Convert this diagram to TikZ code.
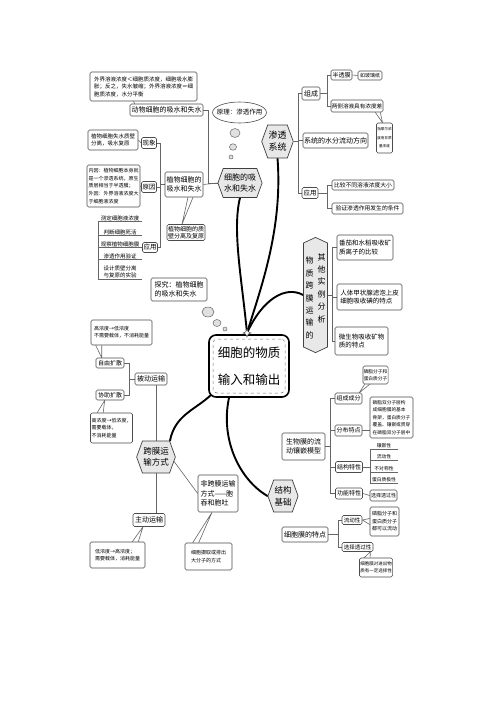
\documentclass[tikz,border=0pt]{standalone}
\usepackage{fontspec}
\setmainfont{Noto Sans CJK SC}
\usetikzlibrary{shapes.symbols,shapes.geometric,calc}
\pgfdeclarelayer{bg}
\pgfsetlayers{bg,main}
\newcommand\fsz[2]{\fontsize{#1}{#2}\selectfont}
\begin{document}
\begin{tikzpicture}[x=1pt,y=-1pt,
 bx/.style={draw=black!70,line width=0.6pt,rounded corners=1.5pt,fill=white,inner sep=0.8pt,align=center},
 hx/.style={shape=signal,signal to=west and east,signal pointer angle=140,draw=black!75,fill=black!9,line width=0.7pt,inner sep=0.8pt,align=center},
 bub/.style={ellipse,draw=black!60,fill=black!12,inner sep=0pt,line width=0.5pt},
 ln/.style={draw=black!60,line width=0.6pt},
 big/.style={draw=black,line width=1.9pt,line cap=round},
 li/.style={inner sep=0.8pt,align=center}
]
\begin{pgfonlayer}{bg}
\fill[white] (0,0) rectangle (500,707);
\end{pgfonlayer}
\useasboundingbox (0,0) rectangle (500,707);

% ---------- top left ----------
\node[bx,minimum width=107pt,minimum height=29pt,align=left,font=\fsz{5.5}{7.5}] (n1) at (143.5,86.5) {外界溶液浓度＜细胞质浓度，细胞吸水膨\\胀；反之，失水皱缩；外界溶液浓度＝细\\胞质浓度，水分平衡};
\node[bx,minimum width=73pt,minimum height=12pt,font=\fsz{7}{8}] (n2) at (166.5,110) {动物细胞的吸水和失水};
\node[ellipse,draw=black!70,line width=0.6pt,fill=white,minimum width=54pt,minimum height=21pt,inner sep=0pt] (el) at (239.5,112.5) {};
\node[font=\fsz{6.5}{8}] (elt) at (el.center) {原理：渗透作用};
\node[bub,minimum width=10pt,minimum height=9pt] (bb1) at (235,133) {};
\node[bub,minimum width=7pt,minimum height=6.5pt] (bb2) at (233,147) {};
\node[bub,minimum width=4pt,minimum height=4pt] (bb3) at (231,157) {};
\node[hx,minimum height=29pt,font=\fsz{8}{10.5}] (hx1) at (240,183) {细胞的吸\\水和失水};

\node[bx,minimum width=50pt,minimum height=20pt,align=left,font=\fsz{5.5}{7.5}] (n3) at (113,140) {植物细胞失水质壁\\分离，吸水复原};
\node[bx,minimum width=15pt,minimum height=11pt,font=\fsz{6.5}{8}] (n4) at (149,143) {现象};
\node[bx,minimum width=53pt,minimum height=42pt,align=left,font=\fsz{5}{7.6}] (n5) at (113.5,186) {内因：植物细胞本身就\\是一个渗透系统，原生\\质层相当于半透膜；\\外因：外界溶液浓度大\\于细胞液浓度};
\node[bx,minimum width=15pt,minimum height=11pt,font=\fsz{6.5}{8}] (n6) at (149,187) {原因};
\node[bx,minimum width=15pt,minimum height=10pt,font=\fsz{6.5}{8}] (n7) at (150,247.5) {应用};
\node[bx,minimum width=38pt,minimum height=25pt,font=\fsz{7}{9.5}] (n8) at (184,184.5) {植物细胞的\\吸水和失水};
\node[bx,minimum width=38pt,minimum height=16pt,font=\fsz{6}{7.5}] (n9) at (186,232.5) {植物细胞的质\\壁分离及复原};

\node[li,minimum width=44pt,font=\fsz{5.5}{7}] (L1) at (120,218) {测定细胞液浓度};
\node[li,minimum width=44pt,font=\fsz{5.5}{7}] (L2) at (120,232) {判断细胞死活};
\node[li,minimum width=44pt,font=\fsz{5.5}{7}] (L3) at (120,244) {观察植物细胞膜};
\node[li,minimum width=44pt,font=\fsz{5.5}{7}] (L4) at (120,256) {渗透作用验证};
\node[li,minimum width=44pt,font=\fsz{5.5}{7}] (L5) at (120,272) {设计质壁分离\\与复原的实验};

\node[bx,minimum width=56pt,minimum height=23pt,align=left,font=\fsz{7}{9}] (n10) at (179,289.5) {探究：植物细胞\\的吸水和失水};
\node[bub,minimum width=12pt,minimum height=10pt] (bc1) at (208,312) {};
\node[bub,minimum width=8pt,minimum height=7pt] (bc2) at (217,323) {};
\node[bub,minimum width=4pt,minimum height=4pt] (bc3) at (225,329) {};

% ---------- top right ----------
\node[hx,minimum height=33pt,font=\fsz{9}{12}] (hx2) at (277.5,141.5) {渗透\\系统};
\node[bx,minimum width=18pt,minimum height=13pt,font=\fsz{7}{8}] (n11) at (311,93.5) {组成};
\node[bx,minimum width=21pt,minimum height=10pt,font=\fsz{6}{7}] (n12) at (341.5,75) {半透膜};
\node[bx,minimum width=24pt,minimum height=9pt,font=\fsz{5}{6}] (n13) at (370,75.5) {如玻璃纸};
\node[bx,minimum width=52pt,minimum height=12pt,font=\fsz{5.6}{7}] (n14) at (357,106) {两侧溶液具有浓度差};
\node[bx,minimum width=16pt,minimum height=30pt,font=\fsz{3.6}{8.5}] (n15) at (384.5,138) {指摩尔浓\\度而非质\\量浓度};
\node[bx,minimum width=65pt,minimum height=15pt,font=\fsz{7}{8}] (n16) at (335.5,140.5) {系统的水分流动方向};
\node[bx,minimum width=16pt,minimum height=11pt,font=\fsz{6.5}{8}] (n17) at (310,193) {应用};
\node[bx,minimum width=62pt,minimum height=10pt,font=\fsz{5.8}{7}] (n18) at (363,185) {比较不同溶液浓度大小};
\node[bx,minimum width=71pt,minimum height=11pt,font=\fsz{5.8}{7}] (n19) at (367.5,208.5) {验证渗透作用发生的条件};

% ---------- middle right ----------
\node[shape=signal,signal to=north and south,signal pointer angle=130,draw=black!75,fill=black!9,line width=0.7pt,minimum width=24pt,minimum height=104pt,inner sep=0pt] (hx3) at (315.5,295) {};
\node[font=\fsz{8}{12.4},align=center,inner sep=0pt] (v1) at (309.5,298) {物\\质\\跨\\膜\\运\\输\\的};
\node[font=\fsz{8}{12.4},align=center,inner sep=0pt] (v2) at (321.5,288) {其\\他\\实\\例\\分\\析};
\node[bx,minimum width=56pt,minimum height=25pt,align=left,font=\fsz{6.5}{8.5}] (n20) at (365,247.5) {番茄和水稻吸收矿\\质离子的比较};
\node[bx,minimum width=65pt,minimum height=26pt,align=left,font=\fsz{6.5}{8.5}] (n21) at (369.5,297) {人体甲状腺滤泡上皮\\细胞吸收碘的特点};
\node[bx,minimum width=53pt,minimum height=28pt,align=left,font=\fsz{6.5}{8.5}] (n22) at (361.5,341) {微生物吸收矿物\\质的特点};

% ---------- center ----------
\node[draw=black,line width=1.6pt,rounded corners=7pt,fill=white,minimum width=80pt,minimum height=62pt] (nc) at (249,366) {};
\node[draw=black!55,dashed,line width=0.5pt,rounded corners=4pt,minimum width=72pt,minimum height=54pt,font=\fsz{12.5}{27},align=center] (nct) at (249,366) {细胞的物质\\输入和输出};
\node[star,star points=4,star point ratio=2.4,draw=black!70,fill=white,minimum size=8pt,inner sep=0pt,line width=0.5pt] (st) at (247,333) {};

% ---------- bottom left ----------
\node[bx,minimum width=61pt,minimum height=25pt,align=left,font=\fsz{5}{7}] (n23) at (121.5,332.5) {高浓度→低浓度\\不需要载体，不消耗能量};
\node[bx,minimum width=28pt,minimum height=10pt,font=\fsz{6}{7}] (n24) at (110,363) {自由扩散};
\node[bx,minimum width=28pt,minimum height=10pt,font=\fsz{6}{7}] (n25) at (110,395) {协助扩散};
\node[bx,minimum width=32pt,minimum height=12pt,font=\fsz{7}{8}] (n26) at (151,379) {被动运输};
\node[bx,minimum width=42pt,minimum height=30pt,align=left,font=\fsz{5}{7.5}] (n27) at (111.5,428) {高浓度→低浓度，\\需要载体，\\不消耗能量};
\node[hx,minimum height=32pt,font=\fsz{8.5}{11.5}] (hx4) at (156,457) {跨膜运\\输方式};
\node[bx,minimum width=32pt,minimum height=13pt,font=\fsz{7}{8}] (n28) at (149,520) {主动运输};
\node[bx,minimum width=55pt,minimum height=26pt,align=left,font=\fsz{5}{7.5}] (n29) at (117.5,555) {低浓度→高浓度；\\需要载体，消耗能量};
\node[bx,minimum width=40pt,minimum height=37pt,align=left,font=\fsz{7}{9.5}] (n30) at (218,493.5) {非跨膜运输\\方式——胞\\吞和胞吐};
\node[bx,minimum width=47pt,minimum height=27pt,align=left,font=\fsz{5}{7.5}] (n31) at (208.5,556.5) {细胞摄取或排出\\大分子的方式};

% ---------- bottom right ----------
\node[hx,minimum height=32pt,font=\fsz{8.5}{11.5}] (hx5) at (283,496) {结构\\基础};
\node[bx,minimum width=43pt,minimum height=27pt,font=\fsz{7}{9.5}] (n32) at (303.5,446.5) {生物膜的流\\动镶嵌模型};
\node[bx,minimum width=27pt,minimum height=11pt,font=\fsz{6}{7}] (n33) at (348.5,398.5) {组成成分};
\node[bx,minimum width=25pt,minimum height=18pt,font=\fsz{4.7}{6.5}] (n34) at (375.5,375) {磷脂分子和\\蛋白质分子};
\node[bx,minimum width=27pt,minimum height=11pt,font=\fsz{6}{7}] (n35) at (348.5,430.5) {分布特点};
\node[bx,minimum width=43pt,minimum height=41pt,align=left,font=\fsz{4.7}{7.4}] (n36) at (391.5,417.5) {磷脂双分子层构\\成细胞膜的基本\\骨架，蛋白质分子\\覆盖、镶嵌或贯穿\\在磷脂双分子层中};
\node[bx,minimum width=27pt,minimum height=11pt,font=\fsz{6}{7}] (n37) at (349,467) {结构特性};
\node[li,minimum width=28pt,font=\fsz{4.8}{6}] (R1) at (384,446) {镶嵌性};
\node[li,minimum width=28pt,font=\fsz{4.8}{6}] (R2) at (384,457) {流动性};
\node[li,minimum width=28pt,font=\fsz{4.8}{6}] (R3) at (384,469) {不对称性};
\node[li,minimum width=28pt,font=\fsz{4.8}{6}] (R4) at (384,480) {蛋白质极性};
\node[bx,minimum width=27pt,minimum height=11pt,font=\fsz{6}{7}] (n39) at (349,493.5) {功能特性};
\node[bx,minimum width=27pt,minimum height=11pt,font=\fsz{5}{6}] (n40) at (383.5,495.5) {选择透过性};
\node[bx,minimum width=46pt,minimum height=15pt,font=\fsz{7}{8}] (n38) at (305,534.5) {细胞膜的特点};
\node[bx,minimum width=20pt,minimum height=9pt,font=\fsz{5.5}{6.5}] (n41) at (352,520) {流动性};
\node[bx,minimum width=29pt,minimum height=29pt,align=left,font=\fsz{5}{7.5}] (n42) at (384.5,521.5) {磷脂分子和\\蛋白质分子\\都可以流动};
\node[bx,minimum width=31pt,minimum height=9pt,font=\fsz{5.5}{6.5}] (n43) at (357.5,547) {选择透过性};
\node[bx,minimum width=32pt,minimum height=19pt,align=left,font=\fsz{4.5}{7}] (n44) at (376,567.5) {细胞膜对进出物\\质有一定选择性};

\coordinate (xb1) at (160,0);
\coordinate (xb2) at (298,0);
\coordinate (xb3) at (327,0);
\coordinate (xb4) at (332,0);
\coordinate (xb5) at (129,0);
\coordinate (xb6) at (330,0);
\coordinate (xb7) at (338,0);

\begin{pgfonlayer}{bg}
% thick curves
\draw[big] (st.center) .. controls (242,280) and (232,230) .. (hx1.south);
\draw[big] (st.center) .. controls (260,290) and (283,230) .. (hx2.south);
\draw[big] (st.center) .. controls (262,300) and (285,285) .. (hx3.west);
\draw[big] ($(nc.south west)+(3,-3)$) .. controls (195,410) and (175,415) .. ($(hx4.north)+(14,0)$);
\draw[big] ($(nc.south)+(-20,0)$) .. controls (220,440) and (240,480) .. (hx5.west);

% top-left
\draw[ln] ($(n1.south)+(-10,0)$) -- ($(n2.north west)+(5,0)$);
\draw[ln] (n2.east) -- ++(5,0) |- (hx1.west);
\draw[ln] (n8.east) -- (hx1.west);
\draw[ln] (n3.east) -- (n4.west);
\draw[ln] (n5.east) -- (n6.west);
\draw[ln] (n4.east) -- (n4.east -| xb1) -- (n7.east -| xb1) -- (n7.east);
\draw[ln] (n6.east) -- (n6.east -| xb1);
\draw[ln] (n8.west) -- (n8.west -| xb1);
\draw[ln] ($(n8.south)+(4,0)$) -- ($(n9.north)+(-4,0)$) -- ($(n8.south)+(9,0)$);
\foreach \q in {L1,L2,L3,L4,L5} {\draw[ln] (\q.south west) -- (\q.south east);}
\draw[ln] (L1.south west) -- (L5.south west);
\draw[ln] (L3.south east) -- (L3.south east -| n7.west);

% top-right
\draw[ln] (hx2.east) -- (hx2.east -| xb2);
\draw[ln] (n11.west -| xb2) -- (n17.west -| xb2);
\draw[ln] (n11.west) -- (n11.west -| xb2);
\draw[ln] (n16.west) -- (n16.west -| xb2);
\draw[ln] (n17.west) -- (n17.west -| xb2);
\draw[ln] (n11.east) -- (n11.east -| xb3);
\draw[ln] (n12.west) -- (n12.west -| xb3) -- (n14.west -| xb3) -- (n14.west);
\draw[ln] (n12.east) -- (n13.west);
\draw[ln] ($(n14.south east)+(-8,0)$) -- ($(n15.north)+(-2,0)$) -- ($(n14.south east)+(-3,0)$);
\draw[ln] (n17.east) -- (n17.east -| xb3);
\draw[ln] (n18.west) -- (n18.west -| xb3) -- (n19.west -| xb3) -- (n19.west);

% middle-right
\draw[ln] (hx3.east) -- (hx3.east -| xb4);
\draw[ln] (n20.west) -- (n20.west -| xb4) -- (n22.west -| xb4) -- (n22.west);
\draw[ln] (n21.west) -- (n21.west -| xb4);

% bottom-left
\draw[ln] ($(n23.south west)+(5,0)$) -- ($(n24.north west)+(6,0)$) -- ($(n23.south west)+(11,0)$);
\draw[ln] (n24.east) -| (xb5 |- n25.east) -- (n25.east);
\draw[ln] (xb5 |- n26.west) -- (n26.west);
\draw[ln] ($(n27.north west)+(7,0)$) -- ($(n25.south west)+(9,0)$) -- ($(n27.north west)+(13,0)$);
\draw[ln] (hx4.north) -- (hx4.north |- n26.south);
\draw[ln] (hx4.south) -- (hx4.south |- n28.north);
\draw[ln] ($(n29.north east)+(-13,0)$) -- ($(n28.south)+(-6,0)$) -- ($(n29.north east)+(-7,0)$);
\draw[ln] ($(hx4.east)+(-2,4)$) -- (n30.west);
\draw[ln] ($(n31.north west)+(8,0)$) -- ($(n30.south)+(-6,0)$) -- ($(n31.north west)+(14,0)$);

% bottom-right
\draw[ln] ($(hx5.north)+(2,0)$) -- ($(hx5.north)+(2,0)$ |- n32.south);
\draw[ln] ($(hx5.south)+(2,0)$) -- ($(hx5.south)+(2,0)$ |- n38.north);
\draw[ln] (n32.east) -- (n32.east -| xb6);
\draw[ln] (n33.west) -- (n33.west -| xb6) -- (n39.west -| xb6) -- (n39.west);
\draw[ln] (n35.west) -- (n35.west -| xb6);
\draw[ln] (n37.west) -- (n37.west -| xb6);
\draw[ln] ($(n34.south west)+(2,0)$) -- ($(n33.north east)+(-3,0)$) -- ($(n34.south west)+(7,0)$);
\draw[ln] (n35.east) -- (n35.east -| n36.west);
\foreach \q in {R1,R2,R3,R4} {\draw[ln] (\q.south west) -- (\q.south east);}
\draw[ln] (R1.south west) -- (R4.south west);
\draw[ln] (n37.east) -- (n37.east -| R1.south west);
\draw[ln] (n39.east) -- (n40.west);
\draw[ln] (n38.east) -- (n38.east -| xb7);
\draw[ln] (n41.west) -- (n41.west -| xb7) -- (n43.west -| xb7) -- (n43.west);
\draw[ln] ($(n42.west)+(0,-3)$) -- (n41.east) -- ($(n42.west)+(0,3)$);
\draw[ln] ($(n44.north west)+(5,0)$) -- ($(n43.south east)+(-3,0)$) -- ($(n44.north west)+(11,0)$);
\end{pgfonlayer}
\end{tikzpicture}
\end{document}
